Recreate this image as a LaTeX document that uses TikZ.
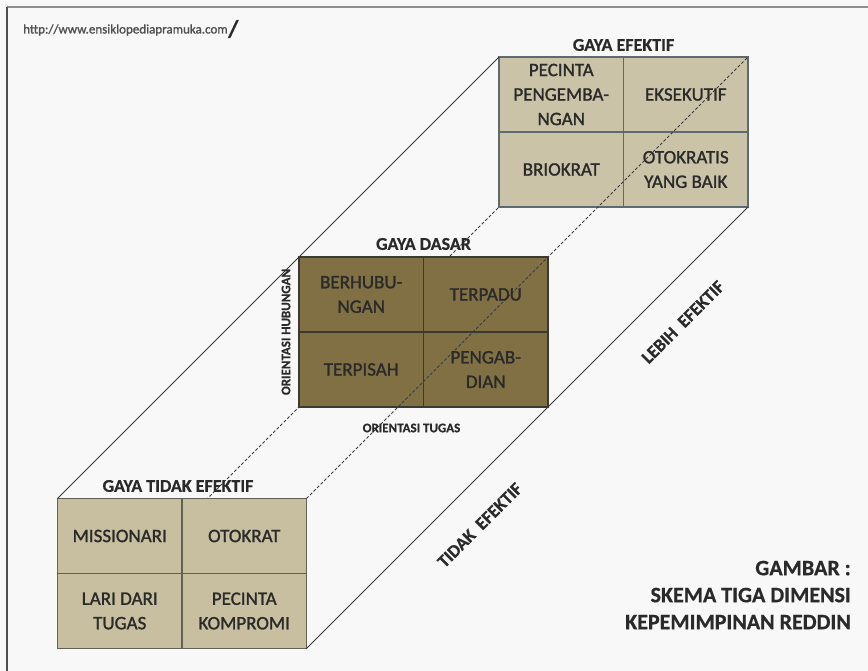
\documentclass[tikz,border=0pt]{standalone}
\usepackage{fontspec}
\setmainfont{Carlito}
\newfontfamily\cellfont{Carlito}[FakeBold=1.3]
\newfontfamily\heavyfont{Carlito Bold}[FakeBold=0.6]
\usetikzlibrary{calc,backgrounds}

\definecolor{paper}{HTML}{F8F8F8}
\definecolor{framegray}{HTML}{8E8E8E}
\definecolor{frameleft}{HTML}{505050}
\definecolor{tanlight}{HTML}{CAC3A7}
\definecolor{tanlow}{HTML}{C7BF9F}
\definecolor{olivebox}{HTML}{807043}
\definecolor{slate}{HTML}{5E6A72}
\definecolor{olivedark}{HTML}{3A3A30}
\definecolor{ink}{HTML}{2A2A2A}
\definecolor{linegray}{HTML}{3C3C3C}
\definecolor{urlgray}{HTML}{505050}

\begin{document}
\begin{tikzpicture}[x=1pt,y=-1pt,
  box/.style={draw, line width=1.3pt, minimum width=249pt, minimum height=150pt,
    inner sep=0pt, outer sep=0pt},
  lightbox/.style={box, fill=tanlight, draw=slate},
  lowbox/.style={box, fill=tanlow, draw=olivedark!80},
  darkbox/.style={box, fill=olivebox, draw=olivedark},
  divider/.style={line width=1.3pt},
  cell/.style={font=\cellfont\fontsize{19}{24.5}\selectfont, text=ink, align=center, inner sep=0pt},
  title/.style={font=\heavyfont\fontsize{18}{22}\selectfont, text=ink, inner sep=0pt},
  axis/.style={font=\heavyfont\fontsize{13}{15}\selectfont, text=ink, inner sep=0pt},
  sidelabel/.style={font=\heavyfont\fontsize{18}{22}\selectfont, text=ink, inner sep=0pt, rotate=45},
  caption/.style={font=\heavyfont\fontsize{22}{27}\selectfont, text=ink, inner sep=0pt, align=right},
  edge/.style={line width=1pt, draw=linegray},
  hidden/.style={edge, dash pattern=on 3pt off 2pt},
]
\useasboundingbox (0,0) rectangle (868,671);

% the three style blocks
\node[lightbox] (ef) at (623.5,132) {};
\node[darkbox]  (ds) at (423.5,332) {};
\node[lowbox]   (tf) at (182,573.5) {};

% quadrant dividers
\foreach \b/\c in {ef/slate, ds/olivedark, tf/olivedark!80} {
  \draw[divider, \c] (\b.north) -- (\b.south);
  \draw[divider, \c] (\b.west) -- (\b.east);
}

% paper, frame and the hidden edge of the prism
\begin{scope}[on background layer]
  \fill[paper] (0,0) rectangle (868,671);
  \draw[framegray, line width=2.5pt] (7,7) -- (868,7);
  \draw[frameleft, line width=1.4pt] (7,7) -- (7,671);
  \draw[hidden] (tf.south west) -- (ef.south west);
\end{scope}

% visible edges of the prism
\draw[edge] (tf.north west) -- (ef.north west);
\draw[edge] (tf.south east) -- (ef.south east);
\draw[hidden] (tf.north east) -- (ef.north east);

% effective styles
\node[cell] (ef1) at ($(ef.center)!0.5!(ef.north west)$) {PECINTA\\PENGEMBA-\\NGAN};
\node[cell] (ef2) at ($(ef.center)!0.5!(ef.north east)$) {EKSEKUTIF};
\node[cell] (ef3) at ($(ef.center)!0.5!(ef.south west)$) {BRIOKRAT};
\node[cell] (ef4) at ($(ef.center)!0.5!(ef.south east)$) {OTOKRATIS\\YANG BAIK};

% basic styles
\node[cell] (ds1) at ($(ds.center)!0.5!(ds.north west)$) {BERHUBU-\\NGAN};
\node[cell] (ds2) at ($(ds.center)!0.5!(ds.north east)$) {TERPADU};
\node[cell] (ds3) at ($(ds.center)!0.5!(ds.south west)$) {TERPISAH};
\node[cell] (ds4) at ($(ds.center)!0.5!(ds.south east)$) {PENGAB-\\DIAN};

% ineffective styles
\node[cell] (tf1) at ($(tf.center)!0.5!(tf.north west)$) {MISSIONARI};
\node[cell] (tf2) at ($(tf.center)!0.5!(tf.north east)$) {OTOKRAT};
\node[cell] (tf3) at ($(tf.center)!0.5!(tf.south west)$) {LARI DARI\\TUGAS};
\node[cell] (tf4) at ($(tf.center)!0.5!(tf.south east)$) {PECINTA\\KOMPROMI};

% block titles
\node[title] (tef) at ($(ef.north)+(0,-12)$) {GAYA EFEKTIF};
\node[title] (tds) at ($(ds.north)+(0,-13)$) {GAYA DASAR};
\node[title] (ttf) at ($(tf.north)+(-4,-12.5)$) {GAYA TIDAK EFEKTIF};

% axes of the basic grid
\node[axis, rotate=90] (ah) at ($(ds.west)+(-13,0)$) {ORIENTASI HUBUNGAN};
\node[axis] (at) at ($(ds.south)+(-12,21)$) {ORIENTASI TUGAS};

% effectiveness direction
\node[sidelabel] (lt) at ($(tf.south east)!0.336!(ef.south east)+(25,25)$) {TIDAK\ \ EFEKTIF};
\node[sidelabel] (ll) at ($(tf.south east)!0.796!(ef.south east)+(25,25)$) {LEBIH\ \ EFEKTIF};

% caption
\node[caption, anchor=east] (cap) at (851,595) {GAMBAR :\\SKEMA TIGA DIMENSI\\KEPEMIMPINAN REDDIN};

% source
\node[font=\cellfont\fontsize{13}{15}\selectfont, text=urlgray, anchor=west, inner sep=0pt] (url) at (23,30) {http://www.ensiklopediapramuka.com};
\node[font=\heavyfont\fontsize{24}{26}\selectfont, text=ink, anchor=west, inner sep=0pt] (slash) at ($(url.east)+(0,-1)$) {/};
\end{tikzpicture}
\end{document}
